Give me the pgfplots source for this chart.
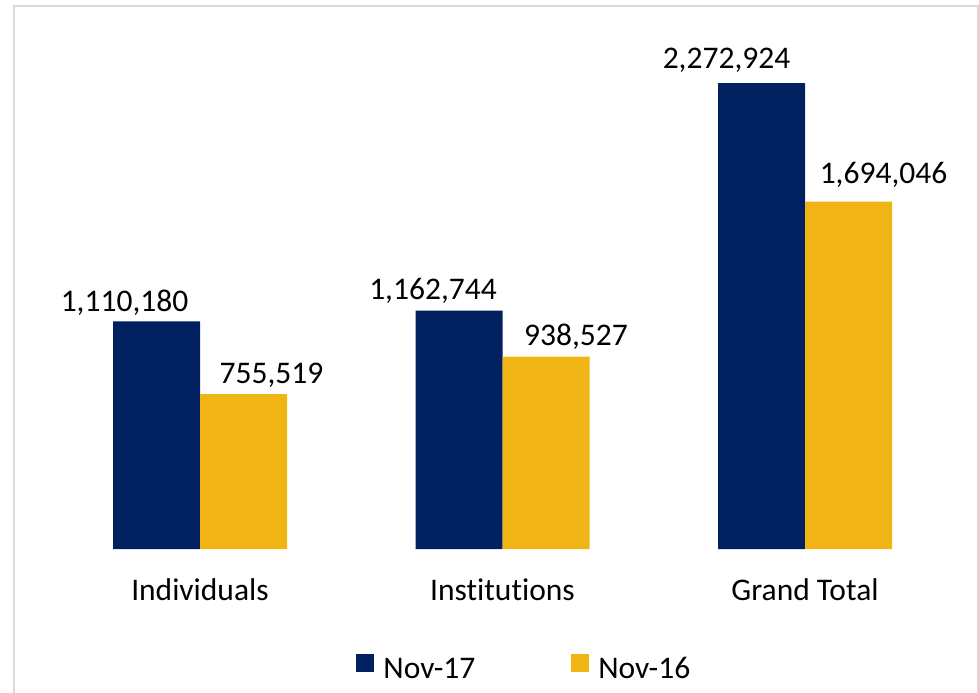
\documentclass[border=0pt]{standalone}
\usepackage{pgfplots}
\pgfplotsset{compat=1.18}
\usepackage{pgfplotstable}
\usepackage{fontspec}
\setmainfont{Carlito}[Ligatures={NoCommon}]
\definecolor{navy}{RGB}{0,32,96}
\definecolor{gold}{RGB}{240,181,21}
\definecolor{framegray}{RGB}{217,217,217}

\pgfplotstableread{
x y lab dx dy
0 1110180 1,110,180 -32 10
1 1162744 1,162,744 -26 11
2 2272924 2,272,924 -35 15
}\novseventeen
\pgfplotstableread{
x y lab dx dy
0 755519 755,519 28 11
1 938527 938,527 30 11
2 1694046 1,694,046 35 18
}\novsixteen

\begin{document}
\fontsize{15.75pt}{18pt}\selectfont
\begin{tikzpicture}
\useasboundingbox (0pt,0pt) rectangle (489.5pt,346pt);
\draw[framegray, line width=1pt] (6.75pt,-2pt) -- (6.75pt,343pt) -- (488.75pt,343pt) -- (488.75pt,-2pt);
\begin{axis}[
  at={(24.375pt,71.5pt)}, anchor=south west,
  scale only axis, width=453.75pt, height=256.275pt,
  xmin=-0.5, xmax=2.5, ymin=0, ymax=2500000,
  ybar=0pt, bar width=43.5pt,
  xtick={0,1,2}, xticklabels={Individuals,Institutions,Grand Total},
  ytick=\empty,
  axis x line=bottom, axis y line=none,
  x axis line style={draw=none},
  major tick length=0pt,
  xticklabel style={anchor=base, yshift=-25.85pt, inner sep=0pt},
  point meta=explicit symbolic,
  nodes near coords,
  visualization depends on={\thisrow{dx} \as \dx},
  visualization depends on={\thisrow{dy} \as \dy},
  nodes near coords style={anchor=base, inner sep=0pt, xshift={(\dx)*0.5pt}, yshift={(\dy)*0.5pt}, text=black},
  legend columns=2,
  legend style={draw=none, fill=none, at={(0.3386,-0.2048)}, anchor=north west, inner sep=0pt,
    nodes={inner sep=0pt, text=black},
    /tikz/every even column/.append style={column sep=48pt}},
  legend image code/.code={\fill[#1] (0pt,-1pt) rectangle (9pt,8pt);},
]
\addplot[fill=navy, draw=none, legend image code/.code={\fill[navy] (0pt,-1pt) rectangle (9pt,8pt);}] table[x=x, y=y, meta=lab] {\novseventeen};
\addlegendentry{\hspace{4.5pt}Nov-17}
\addplot[fill=gold, draw=none, legend image code/.code={\fill[gold] (0pt,-1pt) rectangle (9pt,8pt);}] table[x=x, y=y, meta=lab] {\novsixteen};
\addlegendentry{\hspace{4.5pt}Nov-16}
\end{axis}
\end{tikzpicture}
\end{document}
